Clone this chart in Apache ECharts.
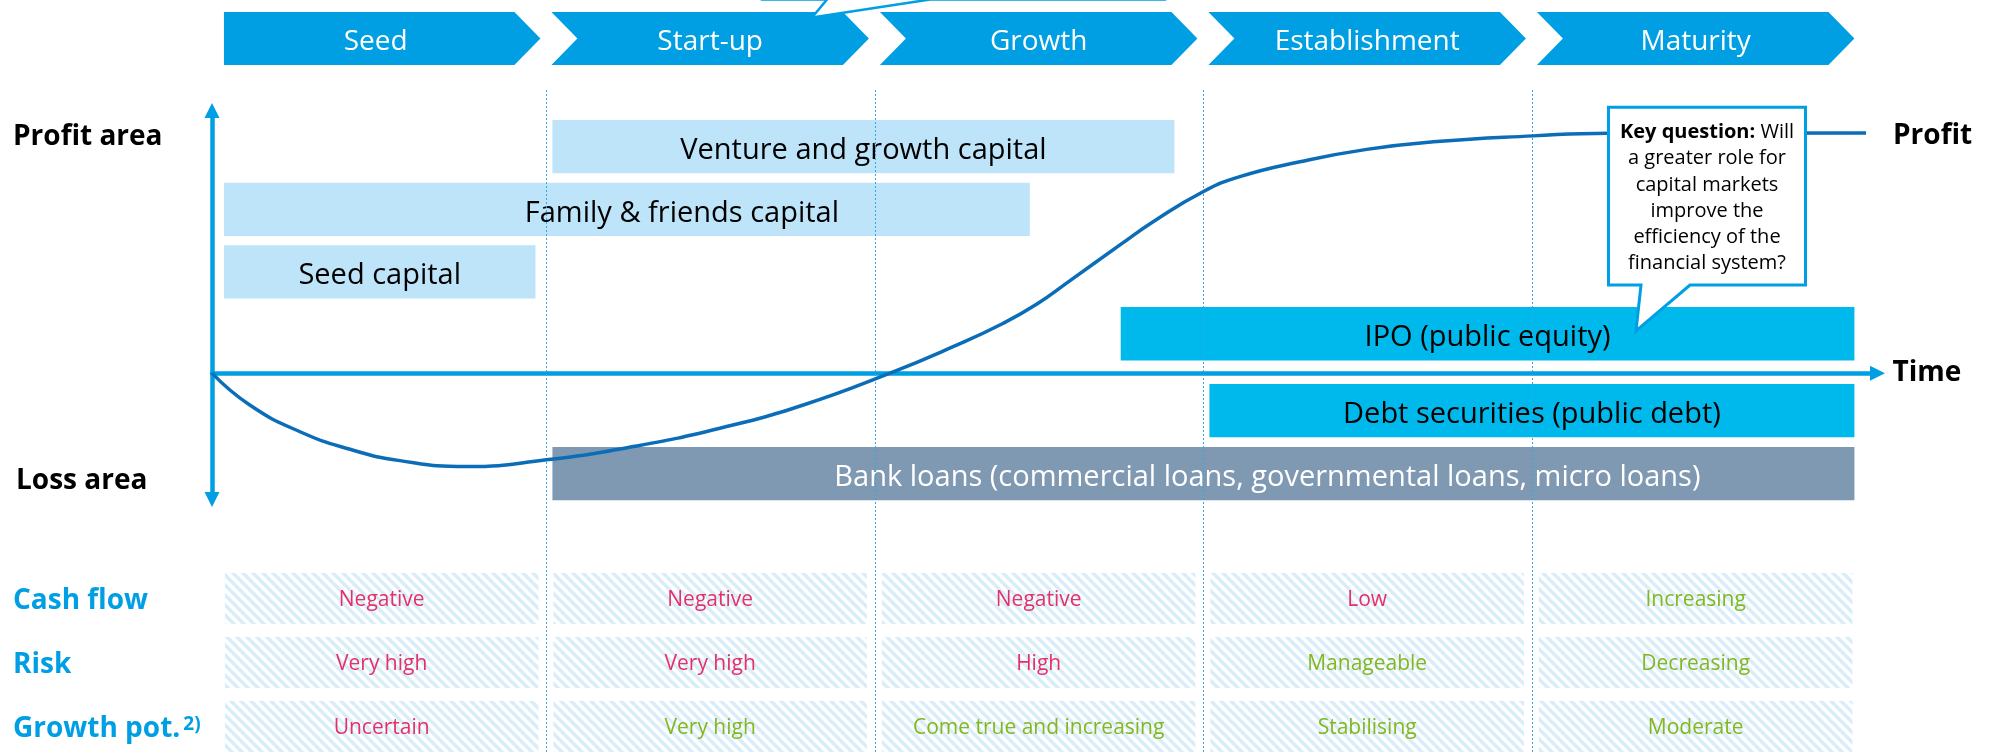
<!DOCTYPE html>
<html>
<head>
<meta charset="UTF-8">
<title>Financing over the company life cycle</title>
<script src="https://cdn.jsdelivr.net/npm/echarts@6.0.0/dist/echarts.min.js"></script>
<style>html,body{margin:0;padding:0;background:#fff}</style>
</head>
<body>
<div id="main" style="width:1997px;height:752px"></div>
<script type="text/javascript">
// stages of the life cycle, time axis: stage k spans [k, k+1]
var stages = ['Seed', 'Start-up', 'Growth', 'Establishment', 'Maturity'];

// funding sources (start / end in stage units, level on the profit axis)
var fundingNames = ['Venture and growth capital', 'Family & friends capital', 'Seed capital',
  'IPO (public equity)', 'Debt securities (public debt)',
  'Bank loans (commercial loans, governmental loans, micro loans)'];
var fundingStart = [1, 0, 0, 2.73, 3, 1];
var fundingEnd = [2.93, 2.49, 0.985, 5, 5, 5];
var fundingLevel = [83.9, 60.7, 37.5, 14.6, -13.9, -37.2];
var fundingKind = ['private', 'private', 'private', 'public', 'public', 'bank'];

// profit curve
var profitTime = [-0.018, 0.097, 0.25, 0.402, 0.554, 0.757, 1.0, 1.264, 1.528, 1.782, 2.046, 2.238,
  2.391, 2.492, 2.594, 2.746, 2.847, 2.999, 3.111, 3.294, 3.497, 3.7, 4.004, 4.232, 5.017];
var profitValue = [0, -11.8, -21.7, -28.2, -32.4, -34.6, -32.1, -27.2, -20.4, -11.8, 0, 9.8,
  18.5, 25.5, 34.3, 47.5, 56.1, 67.2, 72.8, 78.3, 82.9, 85.7, 87.9, 88.9, 89.0];

// characteristics table
var rowNames = ['Cash flow', 'Risk', 'Growth pot.'];
var cashFlow = ['Negative', 'Negative', 'Negative', 'Low', 'Increasing'];
var cashFlowTone = ['bad', 'bad', 'bad', 'bad', 'good'];
var risk = ['Very high', 'Very high', 'High', 'Manageable', 'Decreasing'];
var riskTone = ['bad', 'bad', 'bad', 'good', 'good'];
var growthPot = ['Uncertain', 'Very high', 'Come true and increasing', 'Stabilising', 'Moderate'];
var growthPotTone = ['bad', 'good', 'good', 'good', 'good'];

var FONT = "'Open Sans', sans-serif";
var BLUE = '#009fe3';
var toneColor = { bad: '#e5306a', good: '#82b81e' };
var kindFill = { 'private': '#bee4f9', 'public': '#00b9ec', 'bank': '#8099b3' };
var kindText = { 'private': '#000', 'public': '#000', 'bank': '#fff' };
var labelShift = [0, 55, 0, 0, 0, 64];

var X_MIN = -0.018, X_MAX = 5.052;
var GRID_LEFT = 212, GRID_RIGHT = 119.5;

function hatchCanvas() {
  var c = document.createElement('canvas');
  c.width = 10; c.height = 10;
  var ctx = c.getContext('2d');
  ctx.strokeStyle = '#d8edfa';
  ctx.lineWidth = 3.4;
  ctx.beginPath();
  for (var k = -10; k <= 10; k += 10) {
    ctx.moveTo(k - 3, -3);
    ctx.lineTo(k + 13, 13);
  }
  ctx.stroke();
  return c;
}
var hatch = hatchCanvas();

var profitData = profitTime.map(function (t, i) { return [t, profitValue[i]]; });
var fundingData = fundingStart.map(function (s, i) { return [s, fundingEnd[i], fundingLevel[i]]; });
var stageData = stages.map(function (s, i) { return [i, i + 1]; });

var cellText = [], cellTone = [], cellData = [];
[[cashFlow, cashFlowTone], [risk, riskTone], [growthPot, growthPotTone]].forEach(function (row, r) {
  row[0].forEach(function (txt, s) {
    cellData.push([s, r]);
    cellText.push(txt);
    cellTone.push(row[1][s]);
  });
});

function xAxisBase(gridIndex) {
  return { type: 'value', gridIndex: gridIndex, min: X_MIN, max: X_MAX, show: false };
}

var chart = echarts.init(document.getElementById('main'));

var option = {
  backgroundColor: '#fff',
  animation: false,
  textStyle: { fontFamily: FONT },
  grid: [
    { left: GRID_LEFT, right: GRID_RIGHT, top: 110.5, height: 389, outerBoundsMode: 'none' },
    { left: GRID_LEFT, right: GRID_RIGHT, top: 12, height: 53, outerBoundsMode: 'none' },
    { left: GRID_LEFT, right: GRID_RIGHT, top: 566.5, height: 192, outerBoundsMode: 'none' },
    { left: GRID_LEFT, right: GRID_RIGHT, top: 90, bottom: 0, outerBoundsMode: 'none' }
  ],
  xAxis: [
    {
      type: 'value', gridIndex: 0, min: X_MIN, max: X_MAX,
      name: 'Time', nameLocation: 'end', nameGap: 15,
      nameTextStyle: { fontSize: 28, fontWeight: 'bold', color: '#000', fontFamily: FONT, verticalAlign: 'middle', padding: [22, 0, 0, 0] },
      axisLine: { onZero: true, symbol: ['none', 'triangle'], symbolSize: [15, 15], lineStyle: { color: BLUE, width: 4.5 } },
      axisTick: { show: false }, axisLabel: { show: false }, splitLine: { show: false }
    },
    xAxisBase(1), xAxisBase(2), xAxisBase(3)
  ],
  yAxis: [
    {
      type: 'value', gridIndex: 0, min: -46.8, max: 97.3,
      axisLine: { show: true, onZero: false, symbol: ['triangle', 'triangle'], symbolSize: [15, 15], lineStyle: { color: BLUE, width: 4.5 } },
      axisTick: { show: false }, axisLabel: { show: false }, splitLine: { show: false }
    },
    { type: 'value', gridIndex: 1, min: 0, max: 1, show: false },
    {
      type: 'category', gridIndex: 2, data: rowNames, inverse: true,
      axisLine: { show: false }, axisTick: { show: false }, splitLine: { show: false },
      axisLabel: {
        align: 'left', margin: 199, padding: [5, 0, 0, 0],
        formatter: function (v) {
          return v === 'Growth pot.' ? '{a|' + v + '}{s|2)}' : '{a|' + v + '}';
        },
        rich: {
          a: { fontSize: 28, fontWeight: 'bold', color: BLUE, fontFamily: FONT },
          s: { fontSize: 19, fontWeight: 'bold', color: BLUE, fontFamily: FONT, verticalAlign: 'top', padding: [0, 0, 0, 3] }
        }
      }
    },
    { type: 'value', gridIndex: 3, min: 0, max: 1, show: false }
  ],
  graphic: [
    { type: 'text', z: 100, x: 13, y: 137, style: { text: 'Profit area', fontSize: 28, fontWeight: 'bold', fontFamily: FONT, fill: '#000', verticalAlign: 'middle' } },
    { type: 'text', z: 100, x: 16, y: 481, style: { text: 'Loss area', fontSize: 28, fontWeight: 'bold', fontFamily: FONT, fill: '#000', verticalAlign: 'middle' } },
    {
      type: 'polygon', z: 100,
      shape: { points: [[762, -30], [1165, -30], [1165, -0.5], [930, -0.5], [812, 17.5], [827, -0.5], [762, -0.5]] },
      style: { fill: '#fff', stroke: BLUE, lineWidth: 2.5 }
    },
    {
      type: 'polygon', z: 100,
      shape: { points: [[1608.5, 107.3], [1805.5, 107.3], [1805.5, 285], [1690, 285], [1636, 331], [1641, 285], [1608.5, 285]] },
      style: { fill: '#fff', stroke: BLUE, lineWidth: 3 }
    },
    {
      type: 'text', z: 101, x: 1707, y: 198,
      style: {
        text: '{b|Key question:} Will\na greater role for\ncapital markets\nimprove the\nefficiency of the\nfinancial system?',
        align: 'center', verticalAlign: 'middle', lineHeight: 26.3,
        fontSize: 20, fontFamily: FONT, fill: '#000',
        rich: {
          b: { fontSize: 20, fontWeight: 'bold', fontFamily: FONT, fill: '#000', lineHeight: 26.3 }
        }
      }
    }
  ],
  series: [
    {
      // funding bars
      type: 'custom', xAxisIndex: 0, yAxisIndex: 0, z: 2,
      encode: { x: [0, 1], y: 2 },
      data: fundingData,
      renderItem: function (params, api) {
        var i = params.dataIndex;
        var a = api.coord([api.value(0), api.value(2)]);
        var b = api.coord([api.value(1), api.value(2)]);
        var x0 = a[0] + 6, x1 = b[0] - 6, h = 53.3;
        var kind = fundingKind[i];
        return {
          type: 'group', children: [
            { type: 'rect', shape: { x: x0, y: a[1] - h / 2, width: x1 - x0, height: h }, style: { fill: kindFill[kind] } },
            {
              type: 'text', style: {
                text: fundingNames[i], x: (x0 + x1) / 2 + labelShift[i], y: a[1] + 4,
                align: 'center', verticalAlign: 'middle', fontSize: 29, fontFamily: FONT, fill: kindText[kind]
              }
            }
          ]
        };
      }
    },
    {
      // stage dividers
      type: 'custom', xAxisIndex: 3, yAxisIndex: 3, z: 3, silent: true,
      encode: { x: 0 },
      data: [[1], [2], [3], [4]],
      renderItem: function (params, api) {
        var p = api.coord([api.value(0), 0]);
        var cs = params.coordSys;
        return {
          type: 'line',
          shape: { x1: Math.round(p[0]) + 0.5, y1: cs.y, x2: Math.round(p[0]) + 0.5, y2: cs.y + cs.height },
          style: { stroke: '#35a6e0', lineWidth: 1, lineDash: [2, 2] }
        };
      }
    },
    {
      // profit curve
      type: 'line', xAxisIndex: 0, yAxisIndex: 0, z: 4,
      data: profitData,
      smooth: 0.5,
      showSymbol: false,
      lineStyle: { color: '#0b6db8', width: 3.5 },
      endLabel: { show: true, formatter: 'Profit', distance: 27, offset: [0, 3], fontSize: 28, fontWeight: 'bold', color: '#000', fontFamily: FONT }
    },
    {
      // stage chevrons
      type: 'custom', xAxisIndex: 1, yAxisIndex: 1, z: 2,
      encode: { x: [0, 1] },
      data: stageData,
      renderItem: function (params, api) {
        var i = params.dataIndex;
        var a = api.coord([api.value(0), 0]);
        var b = api.coord([api.value(1), 1]);
        var top = b[1], bot = a[1], mid = (top + bot) / 2;
        var d = 26;
        var left = a[0] + (i === 0 ? 6 : 5), tip = b[0] - 6;
        var pts = [[left, top], [tip - d, top], [tip, mid], [tip - d, bot], [left, bot]];
        if (i > 0) pts.push([left + d, mid]);
        var cx = ((i === 0 ? left : left + d / 2) + (tip - d / 2)) / 2;
        return {
          type: 'group', children: [
            { type: 'polygon', shape: { points: pts }, style: { fill: BLUE } },
            {
              type: 'text', style: {
                text: stages[i], x: cx, y: mid + 4, align: 'center', verticalAlign: 'middle',
                fontSize: 28, fontFamily: FONT, fill: '#fff'
              }
            }
          ]
        };
      }
    },
    {
      // characteristics cells
      type: 'custom', xAxisIndex: 2, yAxisIndex: 2, z: 2,
      encode: { x: 0, y: 1 },
      data: cellData,
      renderItem: function (params, api) {
        var i = params.dataIndex;
        var s = api.value(0), r = api.value(1);
        var a = api.coord([s, r]);
        var b = api.coord([s + 1, r]);
        var x0 = a[0] + 7, x1 = b[0] - 8, h = 51;
        return {
          type: 'group', children: [
            { type: 'rect', shape: { x: x0, y: a[1] - h / 2, width: x1 - x0, height: h }, style: { fill: { image: hatch, repeat: 'repeat' } } },
            {
              type: 'text', style: {
                text: cellText[i], x: (x0 + x1) / 2, y: a[1] + 2, align: 'center', verticalAlign: 'middle',
                fontSize: 21, fontFamily: FONT, fill: toneColor[cellTone[i]]
              }
            }
          ]
        };
      }
    }
  ]
};

chart.setOption(option);
</script>
</body>
</html>
